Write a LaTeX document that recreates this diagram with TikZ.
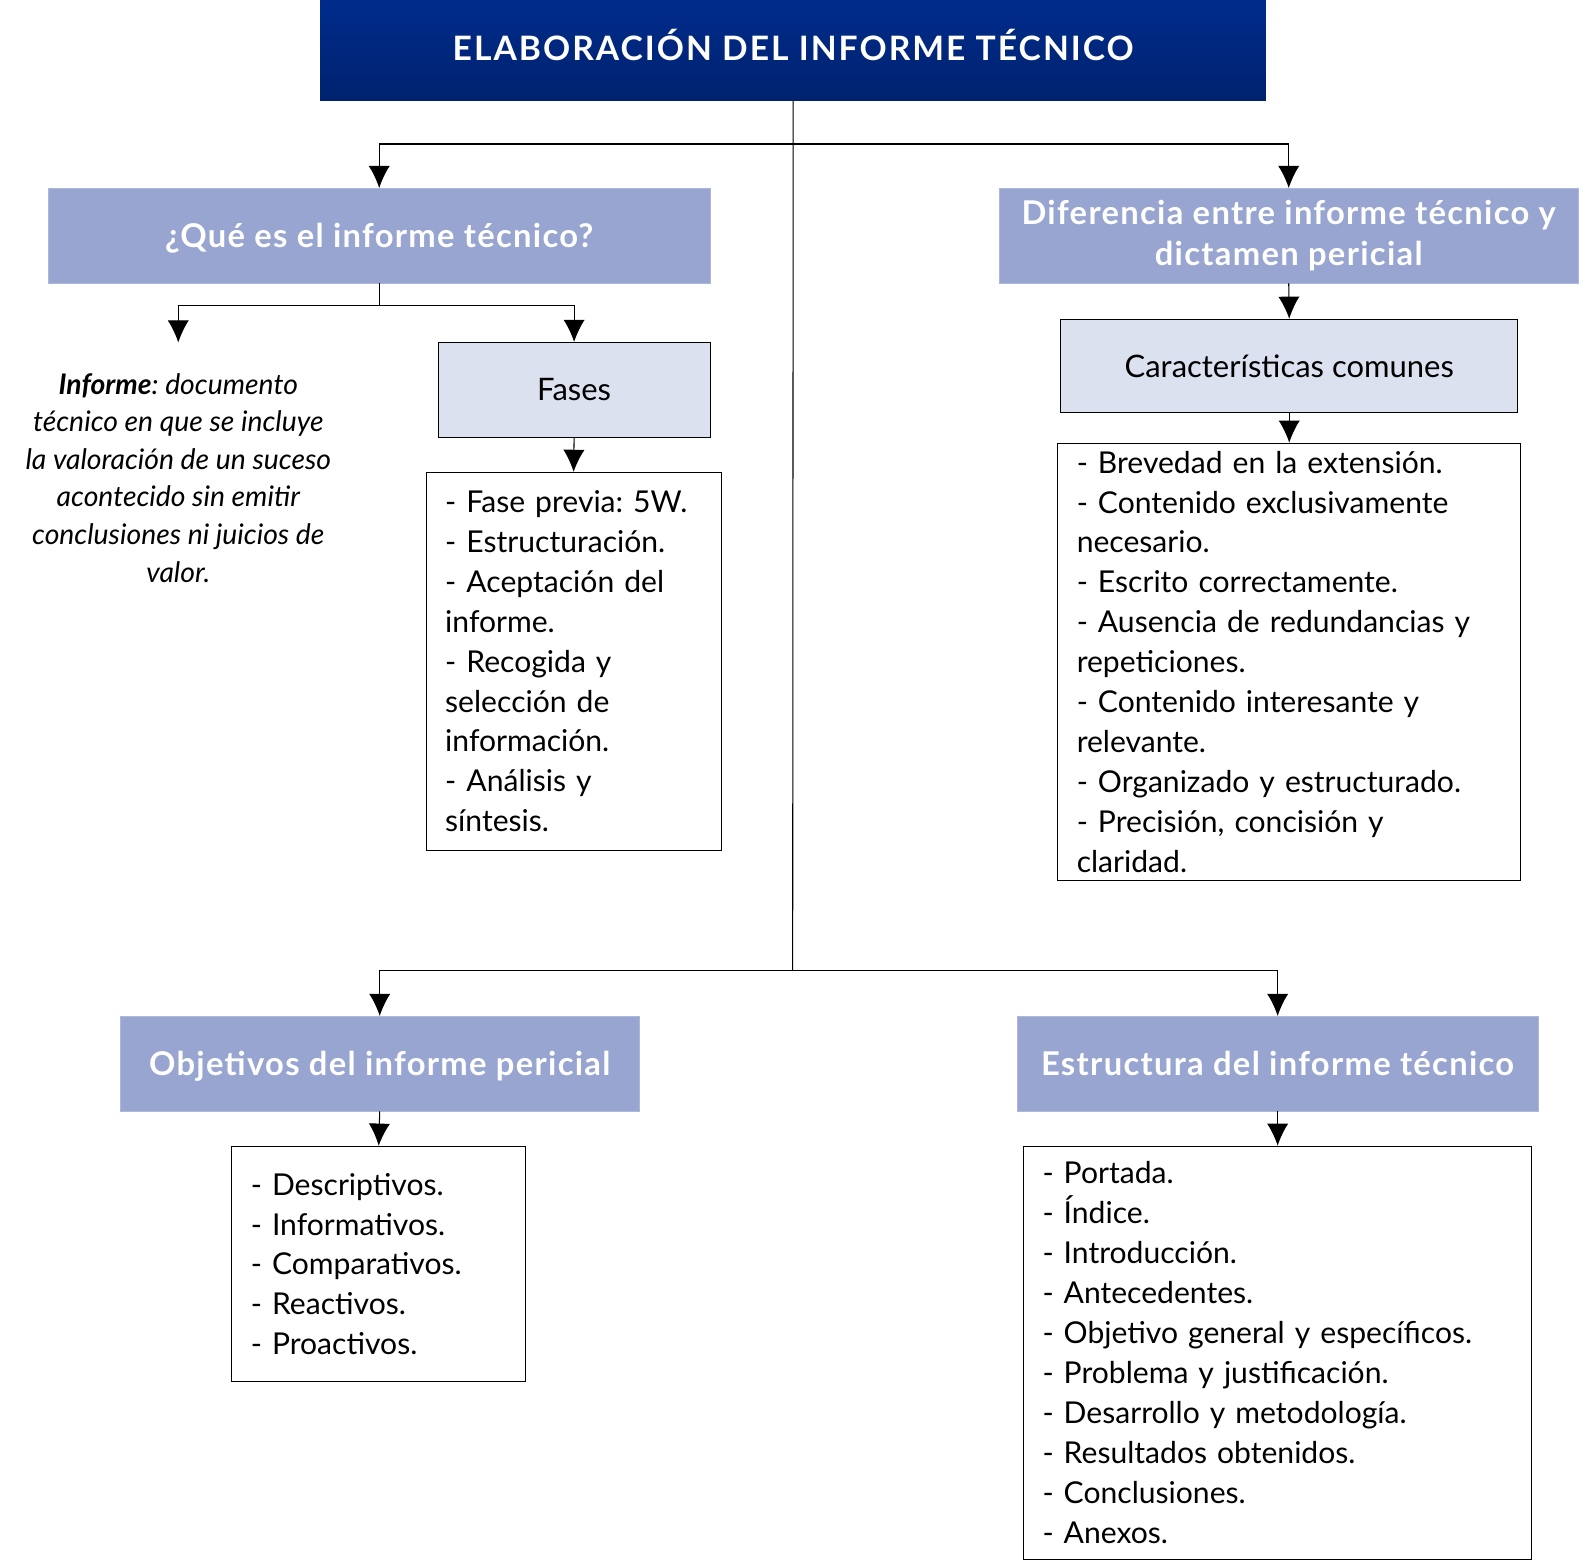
\documentclass[tikz,border=0pt]{standalone}
\usepackage{fontspec}
\setmainfont{Lato}
\frenchspacing
\usetikzlibrary{arrows.meta}
\definecolor{azulosc}{HTML}{002C8C}
\definecolor{azulosc2}{HTML}{00226E}
\definecolor{azulmed}{HTML}{97A5D0}
\definecolor{azulcla}{HTML}{DCE1EF}
\tikzset{
  titulo/.style={fill=azulosc, top color=azulosc, bottom color=azulosc2, text=white,
    font=\bfseries\fontsize{19}{22}\selectfont\addfontfeature{LetterSpace=6},
    text height=11.3pt, text depth=0pt, minimum width=18.78cm, minimum height=2cm},
  cabecera/.style={fill=azulmed, draw=azulmed!80!white, text=white, align=center, minimum height=1.88cm,
    font=\bfseries\fontsize{18.5}{22.7}\selectfont\addfontfeature{LetterSpace=4}},
  cabsimple/.style={cabecera, text height=13.5pt, text depth=0pt},
  subcaja/.style={draw, fill=azulcla, line width=0.6pt, minimum height=1.88cm,
    font=\fontsize{17.5}{22}\selectfont},
  lista/.style={draw, line width=0.6pt, align=left, inner xsep=0.38cm,
    font=\fontsize{17}{22.56}\selectfont},
  flecha/.style={-{Latex[length=12.5pt,width=12pt]}, line width=0.6pt},
  linea/.style={line width=0.6pt}
}
\begin{document}
\begin{tikzpicture}[x=0.02cm, y=-0.02cm]
  % Titulo
  \node [titulo] (tit) at (787.5,50) {ELABORACIÓN DEL INFORME TÉCNICO};
  \coordinate (r1) at (787,143);
  \coordinate (r2) at (787,964);
  \draw [linea] (tit.south) -- (r2);
  % Que es el informe tecnico
  \node [cabsimple, minimum width=13.14cm] (que) at (376.5,234) {¿Qué es el informe técnico?};
  \draw [flecha] (r1) -| (que.north);
  \coordinate (r3) at (376.5,303);
  \coordinate (d1) at (177,340);
  \draw [linea] (que.south) -- (r3);
  \draw [flecha] (r3) -| (d1);
  \node [align=center, font=\itshape\fontsize{16}{21.2}\selectfont] (defin) at (177,474.5)
    {\textbf{Informe}: documento\\técnico en que se incluye\\la valoración de un suceso\\acontecido sin emitir\\conclusiones ni juicios de\\valor.};
  \node [subcaja, minimum width=5.4cm] (fases) at (570,387) {Fases};
  \draw [flecha] (r3) -| (fases.north);
  \node [lista, text width=5.1cm, minimum height=7.5cm] (lfases) at (569.5,656.5)
    {- Fase previa: 5W.\\- Estructuración.\\- Aceptación del\\informe.\\- Recogida y\\selección de\\información.\\- Análisis y\\síntesis.};
  \draw [flecha] (fases.south) -- (lfases.north);
  % Diferencia
  \node [cabecera, minimum width=11.5cm] (dif) at (1279.5,234) {Diferencia entre informe técnico y\\dictamen pericial};
  \draw [flecha] (r1) -| (dif.north);
  \node [subcaja, minimum width=9.08cm, minimum height=1.86cm] (comun) at (1280,363.5) {Características comunes};
  \draw [flecha] (dif.south) -- (comun.north);
  \node [lista, text width=8.44cm, minimum height=8.68cm] (lcomun) at (1280,657)
    {- Brevedad en la extensión.\\- Contenido exclusivamente\\necesario.\\- Escrito correctamente.\\- Ausencia de redundancias y\\repeticiones.\\- Contenido interesante y\\relevante.\\- Organizado y estructurado.\\- Precisión, concisión y\\claridad.};
  \draw [flecha] (comun.south) -- (lcomun.north);
  % Objetivos
  \node [cabsimple, minimum width=10.32cm] (obj) at (377,1056) {Objetivos del informe pericial};
  \draw [flecha] (r2) -| (obj.north);
  \node [lista, text width=5.08cm, minimum height=4.68cm] (lobj) at (376,1255)
    {- Descriptivos.\\- Informativos.\\- Comparativos.\\- Reactivos.\\- Proactivos.};
  \draw [flecha] (obj.south) -- (lobj.north);
  % Estructura
  \node [cabsimple, minimum width=10.34cm] (est) at (1268.5,1056) {Estructura del informe técnico};
  \draw [flecha] (r2) -| (est.north);
  \node [lista, text width=9.34cm, minimum height=8.2cm] (lest) at (1268.5,1343)
    {- Portada.\\- Índice.\\- Introducción.\\- Antecedentes.\\- Objetivo general y específicos.\\- Problema y justificación.\\- Desarrollo y metodología.\\- Resultados obtenidos.\\- Conclusiones.\\- Anexos.};
  \draw [flecha] (est.south) -- (lest.north);
  \pgfresetboundingbox
  \useasboundingbox (0,0) rectangle (1567.7,1548.8);
\end{tikzpicture}
\end{document}
